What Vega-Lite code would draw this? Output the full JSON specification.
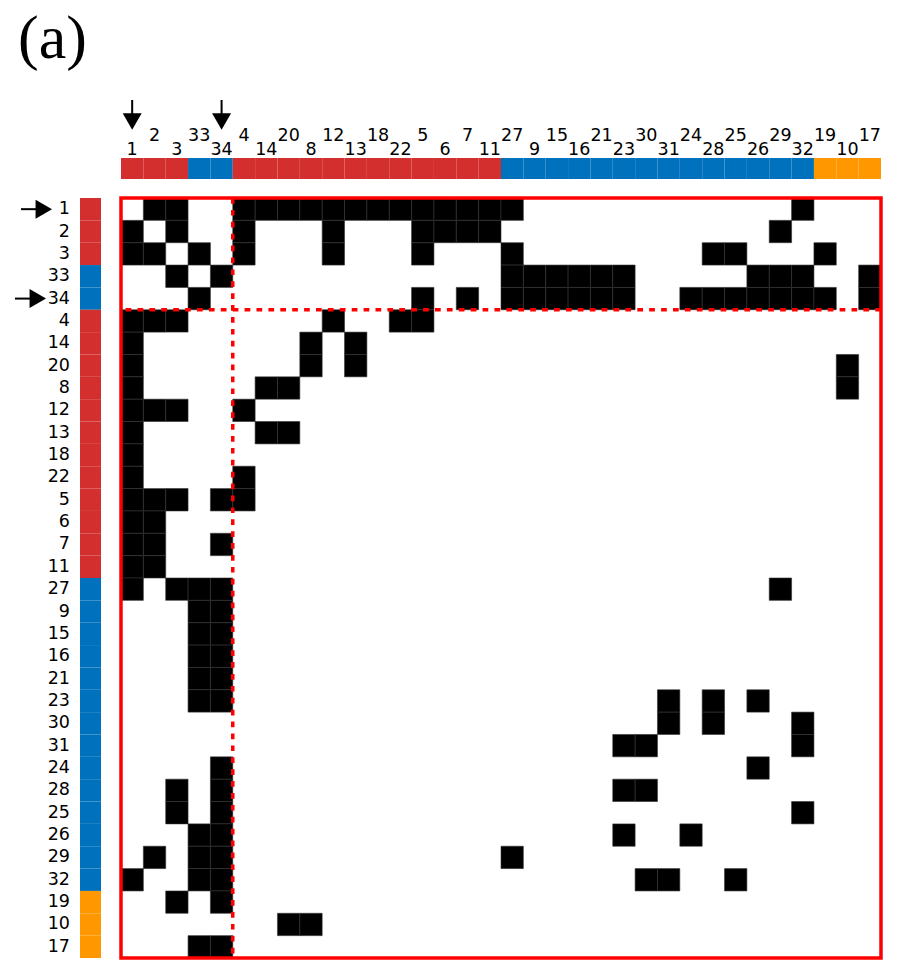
{
  "$schema": "https://vega.github.io/schema/vega-lite/v6.json",
  "autosize": {"type": "pad"},
  "padding": {"left": 14, "top": 8, "right": 16, "bottom": 2},
  "background": "white",
  "title": {"text": "(a)", "anchor": "start", "frame": "group", "font": "Liberation Serif", "fontSize": 62, "fontWeight": "normal", "color": "black", "baseline": "bottom", "dx": -62, "offset": -34},
  "config": {"view": {"stroke": null}, "axis": {"labelFont": "DejaVu Sans"}},
  "datasets": {
    "nodes": [
      {"node": "1", "community": "A"}, {"node": "2", "community": "A"}, {"node": "3", "community": "A"},
      {"node": "33", "community": "B"}, {"node": "34", "community": "B"},
      {"node": "4", "community": "A"}, {"node": "14", "community": "A"}, {"node": "20", "community": "A"},
      {"node": "8", "community": "A"}, {"node": "12", "community": "A"}, {"node": "13", "community": "A"},
      {"node": "18", "community": "A"}, {"node": "22", "community": "A"}, {"node": "5", "community": "A"},
      {"node": "6", "community": "A"}, {"node": "7", "community": "A"}, {"node": "11", "community": "A"},
      {"node": "27", "community": "B"}, {"node": "9", "community": "B"}, {"node": "15", "community": "B"},
      {"node": "16", "community": "B"}, {"node": "21", "community": "B"}, {"node": "23", "community": "B"},
      {"node": "30", "community": "B"}, {"node": "31", "community": "B"}, {"node": "24", "community": "B"},
      {"node": "28", "community": "B"}, {"node": "25", "community": "B"}, {"node": "26", "community": "B"},
      {"node": "29", "community": "B"}, {"node": "32", "community": "B"},
      {"node": "19", "community": "C"}, {"node": "10", "community": "C"}, {"node": "17", "community": "C"}
    ],
    "marked": [{"node": "1"}, {"node": "34"}],
    "split": [{"node": "34"}],
    "frame": [{"label": "frame"}],
    "edges": [
      {"a": "1", "b": "2"}, {"a": "1", "b": "3"}, {"a": "1", "b": "4"}, {"a": "1", "b": "14"}, {"a": "1", "b": "20"}, {"a": "1", "b": "8"}, {"a": "1", "b": "12"}, {"a": "1", "b": "13"}, {"a": "1", "b": "18"}, {"a": "1", "b": "22"}, {"a": "1", "b": "5"}, {"a": "1", "b": "6"}, {"a": "1", "b": "7"}, {"a": "1", "b": "11"}, {"a": "1", "b": "27"}, {"a": "1", "b": "32"},
      {"a": "2", "b": "3"}, {"a": "2", "b": "4"}, {"a": "2", "b": "12"}, {"a": "2", "b": "5"}, {"a": "2", "b": "6"}, {"a": "2", "b": "7"}, {"a": "2", "b": "11"}, {"a": "2", "b": "29"},
      {"a": "3", "b": "33"}, {"a": "3", "b": "4"}, {"a": "3", "b": "12"}, {"a": "3", "b": "5"}, {"a": "3", "b": "27"}, {"a": "3", "b": "28"}, {"a": "3", "b": "25"}, {"a": "3", "b": "19"},
      {"a": "33", "b": "34"}, {"a": "33", "b": "27"}, {"a": "33", "b": "9"}, {"a": "33", "b": "15"}, {"a": "33", "b": "16"}, {"a": "33", "b": "21"}, {"a": "33", "b": "23"}, {"a": "33", "b": "26"}, {"a": "33", "b": "29"}, {"a": "33", "b": "32"}, {"a": "33", "b": "17"},
      {"a": "34", "b": "5"}, {"a": "34", "b": "7"}, {"a": "34", "b": "27"}, {"a": "34", "b": "9"}, {"a": "34", "b": "15"}, {"a": "34", "b": "16"}, {"a": "34", "b": "21"}, {"a": "34", "b": "23"}, {"a": "34", "b": "24"}, {"a": "34", "b": "28"}, {"a": "34", "b": "25"}, {"a": "34", "b": "26"}, {"a": "34", "b": "29"}, {"a": "34", "b": "32"}, {"a": "34", "b": "19"}, {"a": "34", "b": "17"},
      {"a": "4", "b": "12"}, {"a": "4", "b": "22"}, {"a": "4", "b": "5"},
      {"a": "14", "b": "8"}, {"a": "14", "b": "13"},
      {"a": "20", "b": "8"}, {"a": "20", "b": "13"}, {"a": "20", "b": "10"},
      {"a": "8", "b": "10"},
      {"a": "27", "b": "29"},
      {"a": "23", "b": "31"}, {"a": "23", "b": "28"}, {"a": "23", "b": "26"},
      {"a": "30", "b": "31"}, {"a": "30", "b": "28"}, {"a": "30", "b": "32"},
      {"a": "31", "b": "32"},
      {"a": "24", "b": "26"},
      {"a": "25", "b": "32"}
    ]
  },
  "columns": 2,
  "spacing": {"row": 19, "column": 20},
  "bounds": "flush",
  "concat": [
    {
      "width": 21, "height": 21,
      "data": {"values": []},
      "mark": "point",
      "encoding": {}
    },
    {
      "width": 760, "height": 21,
      "layer": [
        {
          "data": {"name": "nodes"},
          "mark": {"type": "rect"},
          "encoding": {
            "x": {"field": "node", "type": "ordinal",
              "scale": {"type": "band", "domain": ["1","2","3","33","34","4","14","20","8","12","13","18","22","5","6","7","11","27","9","15","16","21","23","30","31","24","28","25","26","29","32","19","10","17"], "paddingInner": 0, "paddingOuter": 0},
              "axis": {"orient": "top", "ticks": false, "tickSize": 0, "domain": false, "title": null, "labelAngle": 0, "labelAlign": "center", "labelBaseline": "bottom", "labelPadding": 13.3, "labelFontSize": 17.5, "labelColor": "black", "labelLineHeight": 13.3, "labelOverlap": false, "labelBound": false, "labelFlush": false,
                "labelExpr": "indexof(['2','33','4','20','12','18','5','7','27','15','21','30','24','25','29','19','17'], datum.label) >= 0 ? [datum.label, ''] : ['', datum.label]"}},
            "y": {"value": 0}, "y2": {"value": "height"},
            "color": {"field": "community", "type": "nominal", "scale": {"domain": ["A","B","C"], "range": ["#d32f2f","#0072bd","#ff9800"]}, "legend": null}
          }
        },
        {
          "data": {"name": "marked"},
          "mark": {"type": "rule", "color": "black", "strokeWidth": 2},
          "encoding": {
            "x": {"field": "node", "type": "ordinal", "scale": {"type": "band"}},
            "y": {"value": -58}, "y2": {"value": -42}
          }
        },
        {
          "data": {"name": "marked"},
          "mark": {"type": "point", "shape": "triangle-down", "size": 361, "filled": true, "color": "black", "opacity": 1},
          "encoding": {
            "x": {"field": "node", "type": "ordinal", "scale": {"type": "band"}},
            "y": {"value": -36.5}
          }
        }
      ]
    },
    {
      "width": 21, "height": 760,
      "layer": [
        {
          "data": {"name": "nodes"},
          "mark": {"type": "rect"},
          "encoding": {
            "y": {"field": "node", "type": "ordinal",
              "scale": {"type": "band", "domain": ["1","2","3","33","34","4","14","20","8","12","13","18","22","5","6","7","11","27","9","15","16","21","23","30","31","24","28","25","26","29","32","19","10","17"], "paddingInner": 0, "paddingOuter": 0},
              "axis": {"orient": "left", "ticks": false, "tickSize": 0, "domain": false, "title": null, "labelAlign": "right", "labelBaseline": "middle", "labelPadding": 10.5, "labelFontSize": 17.5, "labelColor": "black", "labelOverlap": false, "labelBound": false, "labelFlush": false}},
            "x": {"value": 0}, "x2": {"value": "width"},
            "color": {"field": "community", "type": "nominal", "scale": {"domain": ["A","B","C"], "range": ["#d32f2f","#0072bd","#ff9800"]}, "legend": null}
          }
        },
        {
          "data": {"name": "marked"},
          "transform": [{"filter": "datum.node == '1'"}],
          "mark": {"type": "rule", "color": "black", "strokeWidth": 2},
          "encoding": {
            "y": {"field": "node", "type": "ordinal", "scale": {"type": "band"}},
            "x": {"value": -59}, "x2": {"value": -42}
          }
        },
        {
          "data": {"name": "marked"},
          "transform": [{"filter": "datum.node == '1'"}],
          "mark": {"type": "point", "shape": "triangle-right", "size": 361, "filled": true, "color": "black", "opacity": 1},
          "encoding": {
            "y": {"field": "node", "type": "ordinal", "scale": {"type": "band"}},
            "x": {"value": -36.2}
          }
        },
        {
          "data": {"name": "marked"},
          "transform": [{"filter": "datum.node == '34'"}],
          "mark": {"type": "rule", "color": "black", "strokeWidth": 2},
          "encoding": {
            "y": {"field": "node", "type": "ordinal", "scale": {"type": "band"}},
            "x": {"value": -65}, "x2": {"value": -48}
          }
        },
        {
          "data": {"name": "marked"},
          "transform": [{"filter": "datum.node == '34'"}],
          "mark": {"type": "point", "shape": "triangle-right", "size": 361, "filled": true, "color": "black", "opacity": 1},
          "encoding": {
            "y": {"field": "node", "type": "ordinal", "scale": {"type": "band"}},
            "x": {"value": -42.2}
          }
        }
      ]
    },
    {
      "width": 760, "height": 760,
      "layer": [
        {
          "data": {"name": "edges"},
          "mark": {"type": "rect", "fill": "black", "stroke": "#333333", "strokeWidth": 0.6},
          "encoding": {
            "x": {"field": "a", "type": "ordinal", "scale": {"type": "band", "domain": ["1","2","3","33","34","4","14","20","8","12","13","18","22","5","6","7","11","27","9","15","16","21","23","30","31","24","28","25","26","29","32","19","10","17"], "paddingInner": 0, "paddingOuter": 0}, "axis": null},
            "y": {"field": "b", "type": "ordinal", "scale": {"type": "band", "domain": ["1","2","3","33","34","4","14","20","8","12","13","18","22","5","6","7","11","27","9","15","16","21","23","30","31","24","28","25","26","29","32","19","10","17"], "paddingInner": 0, "paddingOuter": 0}, "axis": null}
          }
        },
        {
          "data": {"name": "edges"},
          "mark": {"type": "rect", "fill": "black", "stroke": "#333333", "strokeWidth": 0.6},
          "encoding": {
            "x": {"field": "b", "type": "ordinal", "axis": null},
            "y": {"field": "a", "type": "ordinal", "axis": null}
          }
        },
        {
          "data": {"name": "split"},
          "mark": {"type": "rule", "color": "#ff0000", "strokeWidth": 3.5, "strokeDash": [5.7, 6.2]},
          "encoding": {
            "x": {"field": "node", "type": "ordinal", "bandPosition": 1, "axis": null}
          }
        },
        {
          "data": {"name": "split"},
          "mark": {"type": "rule", "color": "#ff0000", "strokeWidth": 3.5, "strokeDash": [5.7, 6.2]},
          "encoding": {
            "y": {"field": "node", "type": "ordinal", "bandPosition": 1, "axis": null}
          }
        },
        {
          "data": {"name": "frame"},
          "mark": {"type": "rect", "fillOpacity": 0, "stroke": "#ff0000", "strokeWidth": 3.5},
          "encoding": {
            "x": {"value": 0}, "x2": {"value": "width"},
            "y": {"value": 0}, "y2": {"value": "height"}
          }
        }
      ]
    }
  ]
}
